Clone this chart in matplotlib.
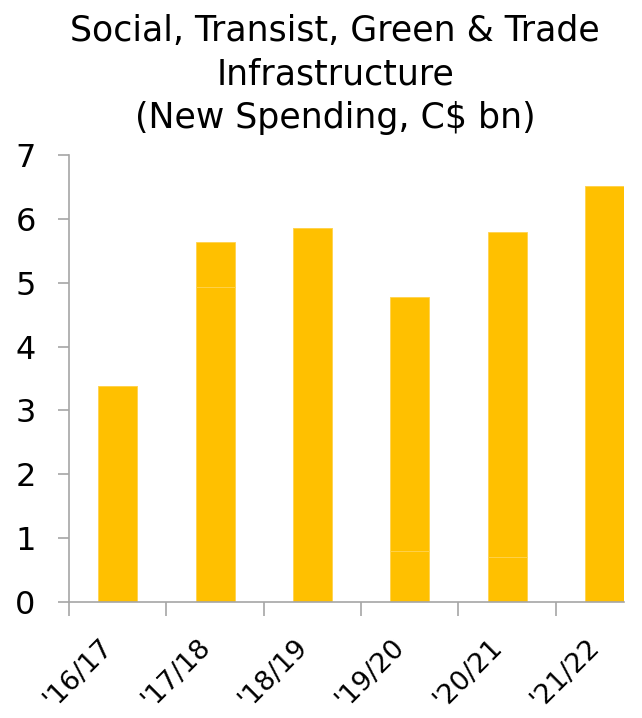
import numpy as np
import matplotlib.pyplot as plt
import matplotlib.transforms as mtransforms

years = ["'16/17", "'17/18", "'18/19", "'19/20", "'20/21", "'21/22"]
base = [3.38, 4.93, 5.85, 0.80, 0.70, 6.52]
extra = [0.0, 0.70, 0.0, 3.97, 5.09, 0.0]

gold = "#FFC000"
grey = "#A6A6A6"

fig = plt.figure(figsize=(6.42, 7.18), dpi=100)
ax = fig.add_axes([0.1075, 0.1616, 0.8645, 0.6225])

x = np.arange(len(years))
ax.bar(x, base, width=0.4, color=gold, edgecolor="#FFD24D", linewidth=0.6)
ax.bar(x, extra, width=0.4, bottom=base, color=gold, edgecolor="#FFD24D", linewidth=0.6)

ax.set_xlim(-0.5, 5.2)
ax.set_ylim(0, 7)
ax.set_yticks(range(0, 8))
ax.tick_params(axis="y", labelsize=23, length=8, width=1.2, color=grey, pad=16)

ax.set_xticks(np.arange(-0.5, 5.0, 1.0))
ax.set_xticklabels([])
ax.tick_params(axis="x", length=10, width=1.2, color=grey)
ax.set_xticks(x, minor=True)
ax.set_xticklabels(years, minor=True, rotation=45, ha="right", rotation_mode="anchor", fontsize=19.5)
ax.tick_params(axis="x", which="minor", length=0, pad=23)
shift = mtransforms.ScaledTranslation(-13 / 72, 0, fig.dpi_scale_trans)
for lab in ax.get_xticklabels(minor=True):
    lab.set_transform(lab.get_transform() + shift)

for s in ["top", "right"]:
    ax.spines[s].set_visible(False)
for s in ["left", "bottom"]:
    ax.spines[s].set_color(grey)
    ax.spines[s].set_linewidth(1.2)

fig.text(0.522, 0.981, "Social, Transist, Green & Trade\nInfrastructure\n(New Spending, C$ bn)",
         ha="center", va="top", fontsize=25, linespacing=1.35)

fig.savefig("out.png", dpi=100)
